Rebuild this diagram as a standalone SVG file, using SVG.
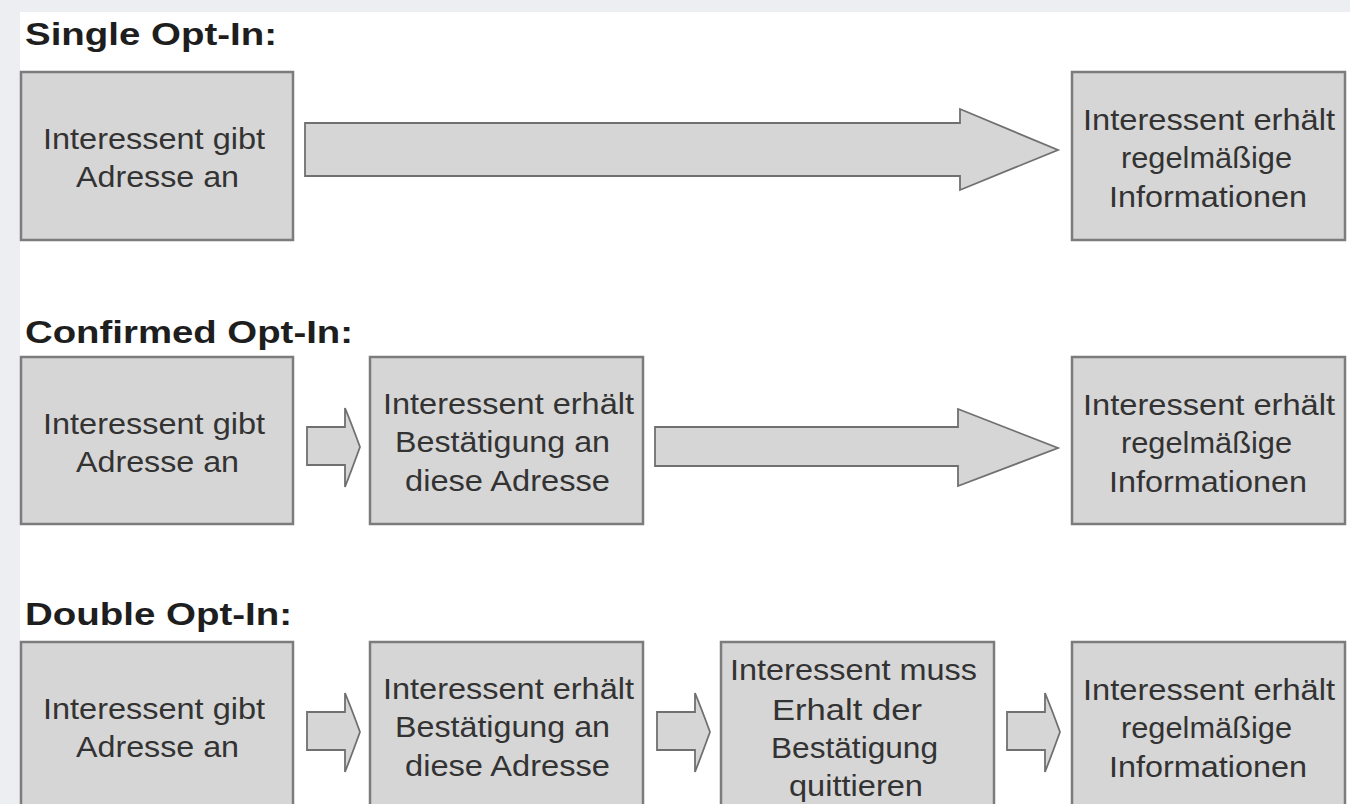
<svg xmlns="http://www.w3.org/2000/svg" width="1350" height="804" viewBox="0 0 1350 804">
<style>
.bg{fill:#ffffff}
.margin{fill:#eceef1}
.box{fill:#d6d6d6;stroke:#7c7c7c;stroke-width:2.5}
.arrow{fill:#d6d6d6;stroke:#707070;stroke-width:1.8;stroke-linejoin:miter}
.t{font-family:"Liberation Sans",Arial,sans-serif;font-size:29px;fill:#333333}
.h{font-family:"Liberation Sans",Arial,sans-serif;font-size:32px;font-weight:bold;fill:#1e1e1e}
</style>
<defs>
<path id="small" d="M0,-20 H38 V-39 Q45,-22 53,0 Q45,22 38,40 V18 H0 Z"/>
</defs>
<rect class="bg" x="0" y="0" width="1350" height="804"/>
<rect class="margin" x="0" y="0" width="20" height="804"/>
<rect class="margin" x="0" y="0" width="1350" height="12"/>

<g id="titles">
<text class="h" x="25" y="45" textLength="252" lengthAdjust="spacingAndGlyphs">Single Opt-In:</text>
<text class="h" x="25" y="343" textLength="328" lengthAdjust="spacingAndGlyphs">Confirmed Opt-In:</text>
<text class="h" x="25" y="625" textLength="267" lengthAdjust="spacingAndGlyphs">Double Opt-In:</text>
</g>

<g id="connectors">
<polygon class="arrow" points="305,123 960,123 960,109 1058,150 960,190 960,176 305,176"/>
<use href="#small" class="arrow" x="307" y="447"/>
<polygon class="arrow" points="655,427 958,427 958,409 1058,448 958,486 958,466 655,466"/>
<use href="#small" class="arrow" x="307" y="732"/>
<use href="#small" class="arrow" x="657" y="732"/>
<use href="#small" class="arrow" x="1007" y="732"/>
</g>

<g id="s1-box1">
<rect class="box" x="21" y="72" width="272" height="168"/>
<text class="t" x="43" y="149" textLength="222" lengthAdjust="spacingAndGlyphs">Interessent gibt</text>
<text class="t" x="76" y="187" textLength="163" lengthAdjust="spacingAndGlyphs">Adresse an</text>
</g>
<g id="s1-box2">
<rect class="box" x="1072" y="72" width="273" height="168"/>
<text class="t" x="1083" y="130" textLength="252" lengthAdjust="spacingAndGlyphs">Interessent erhält</text>
<text class="t" x="1121" y="168" textLength="171" lengthAdjust="spacingAndGlyphs">regelmäßige</text>
<text class="t" x="1109" y="207" textLength="198" lengthAdjust="spacingAndGlyphs">Informationen</text>
</g>

<g id="s2-box1">
<rect class="box" x="21" y="357" width="272" height="167"/>
<text class="t" x="43" y="434" textLength="222" lengthAdjust="spacingAndGlyphs">Interessent gibt</text>
<text class="t" x="76" y="472" textLength="163" lengthAdjust="spacingAndGlyphs">Adresse an</text>
</g>
<g id="s2-box2">
<rect class="box" x="370" y="357" width="273" height="167"/>
<text class="t" x="383" y="414" textLength="251" lengthAdjust="spacingAndGlyphs">Interessent erhält</text>
<text class="t" x="395" y="452" textLength="215" lengthAdjust="spacingAndGlyphs">Bestätigung an</text>
<text class="t" x="405" y="491" textLength="205" lengthAdjust="spacingAndGlyphs">diese Adresse</text>
</g>
<g id="s2-box3">
<rect class="box" x="1072" y="357" width="273" height="167"/>
<text class="t" x="1083" y="415" textLength="252" lengthAdjust="spacingAndGlyphs">Interessent erhält</text>
<text class="t" x="1121" y="453" textLength="171" lengthAdjust="spacingAndGlyphs">regelmäßige</text>
<text class="t" x="1109" y="492" textLength="198" lengthAdjust="spacingAndGlyphs">Informationen</text>
</g>

<g id="s3-box1">
<rect class="box" x="21" y="642" width="272" height="190"/>
<text class="t" x="43" y="719" textLength="222" lengthAdjust="spacingAndGlyphs">Interessent gibt</text>
<text class="t" x="76" y="757" textLength="163" lengthAdjust="spacingAndGlyphs">Adresse an</text>
</g>
<g id="s3-box2">
<rect class="box" x="370" y="642" width="273" height="190"/>
<text class="t" x="383" y="699" textLength="251" lengthAdjust="spacingAndGlyphs">Interessent erhält</text>
<text class="t" x="395" y="737" textLength="215" lengthAdjust="spacingAndGlyphs">Bestätigung an</text>
<text class="t" x="405" y="776" textLength="205" lengthAdjust="spacingAndGlyphs">diese Adresse</text>
</g>
<g id="s3-box3">
<rect class="box" x="721" y="642" width="273" height="190"/>
<text class="t" x="730" y="680" textLength="247" lengthAdjust="spacingAndGlyphs">Interessent muss</text>
<text class="t" x="772" y="720" textLength="150" lengthAdjust="spacingAndGlyphs">Erhalt der</text>
<text class="t" x="771" y="758" textLength="167" lengthAdjust="spacingAndGlyphs">Bestätigung</text>
<text class="t" x="789" y="796" textLength="134" lengthAdjust="spacingAndGlyphs">quittieren</text>
</g>
<g id="s3-box4">
<rect class="box" x="1072" y="642" width="273" height="190"/>
<text class="t" x="1083" y="700" textLength="252" lengthAdjust="spacingAndGlyphs">Interessent erhält</text>
<text class="t" x="1121" y="738" textLength="171" lengthAdjust="spacingAndGlyphs">regelmäßige</text>
<text class="t" x="1109" y="777" textLength="198" lengthAdjust="spacingAndGlyphs">Informationen</text>
</g>
</svg>
